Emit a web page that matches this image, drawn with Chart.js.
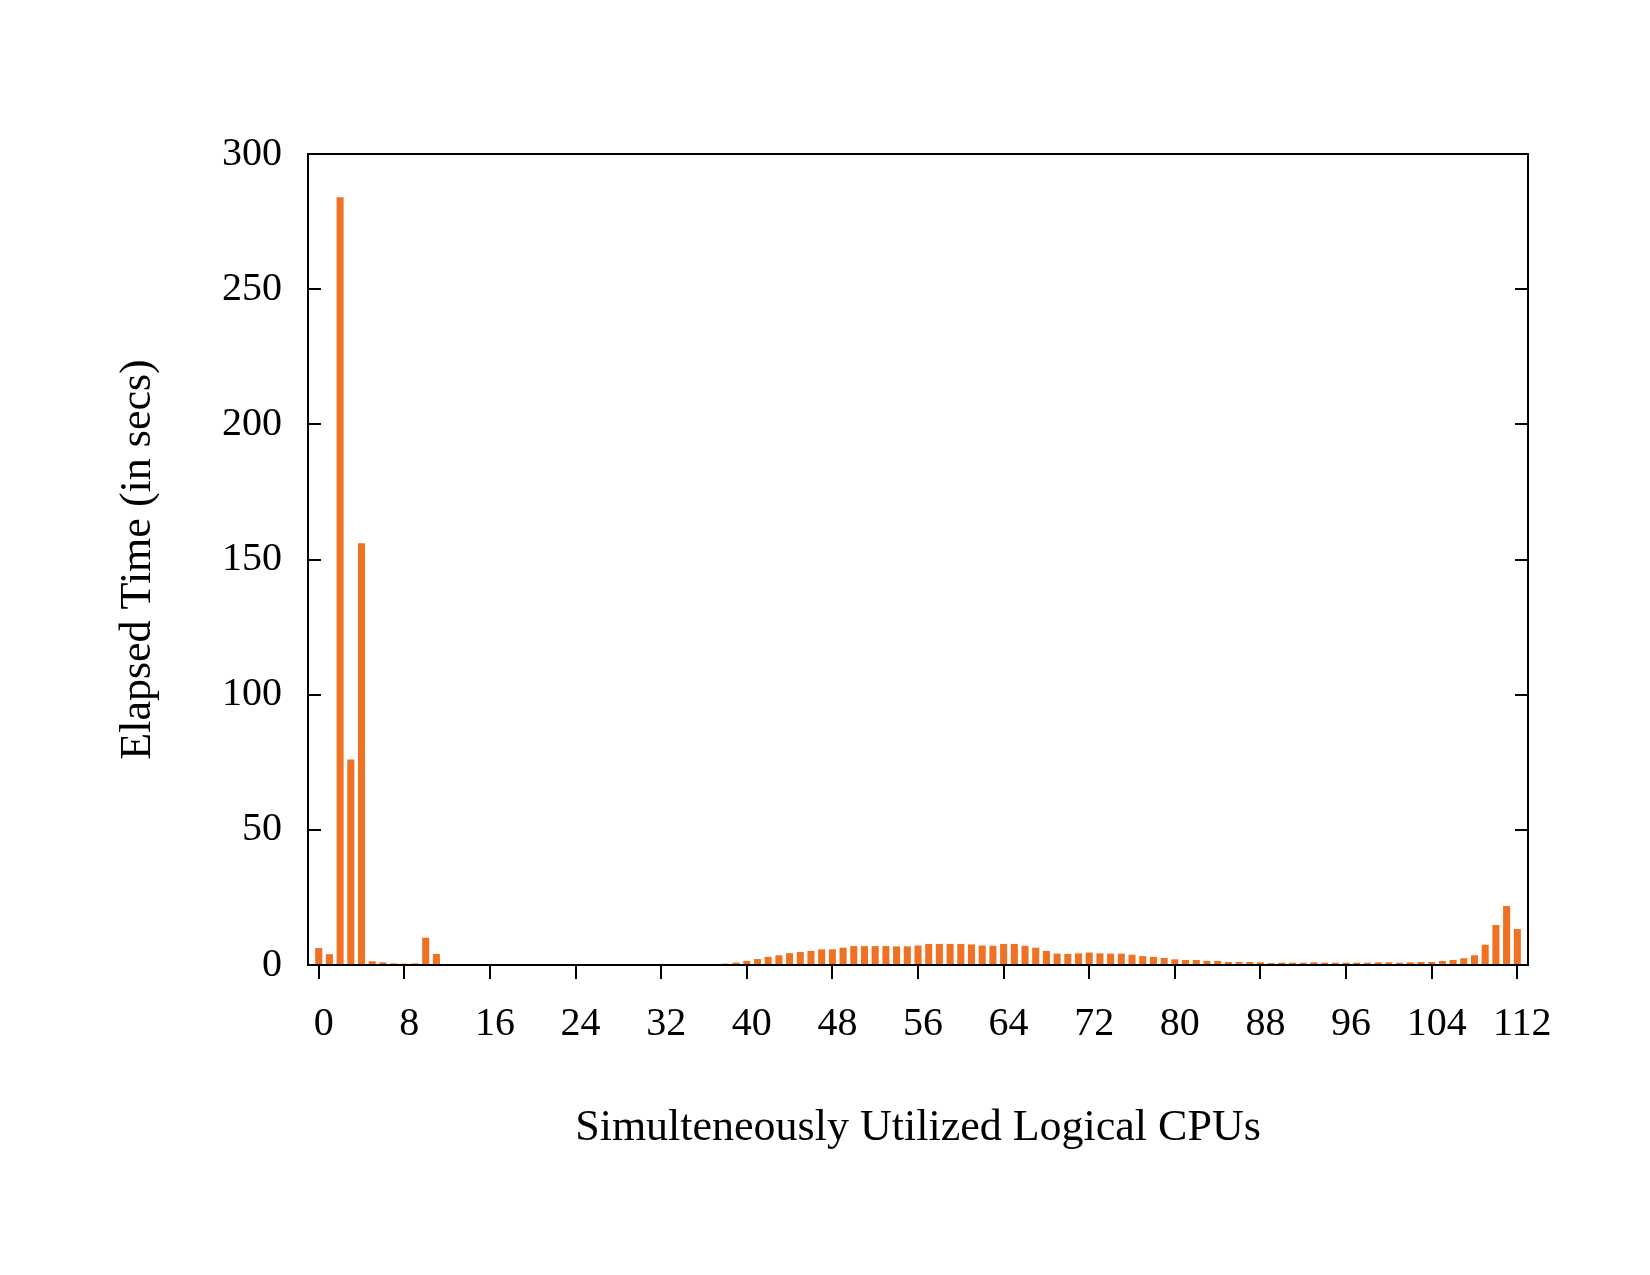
<!DOCTYPE html>
<html>
<head>
<meta charset="utf-8">
<script src="https://cdn.jsdelivr.net/npm/chart.js@4/dist/chart.umd.min.js"></script>
<style>
  html, body { margin: 0; padding: 0; background: #ffffff; }
  #wrap { width: 1650px; height: 1275px; }
</style>
</head>
<body>
<div id="wrap"><canvas id="c" width="1650" height="1275"></canvas></div>
<script>
// Categories: number of simultaneously utilized logical CPUs
const cpus = [
  0,1,2,3,4,5,6,7,8,9,10,11,12,13,14,15,16,17,18,19,20,21,22,23,24,25,26,27,28,29,
  30,31,32,33,34,35,36,37,38,39,40,41,42,43,44,45,46,47,48,49,50,51,52,53,54,55,56,57,58,59,
  60,61,62,63,64,65,66,67,68,69,70,71,72,73,74,75,76,77,78,79,80,81,82,83,84,85,86,87,88,89,
  90,91,92,93,94,95,96,97,98,99,100,101,102,103,104,105,106,107,108,109,110,111,112
];
// Elapsed time (seconds) per CPU count
const elapsed = [
  6.3, 4.0, 284, 76, 156, 1.4, 1.0, 0.6, 0.5, 0.6,
  10.1, 4.1, 0, 0, 0, 0, 0, 0, 0, 0,
  0, 0, 0, 0, 0, 0, 0, 0, 0, 0,
  0, 0, 0, 0.1, 0.1, 0.15, 0.2, 0.35, 0.5, 0.9,
  1.5, 2.2, 3.0, 3.6, 4.4, 4.8, 5.2, 5.8, 5.8, 6.4,
  7.0, 7.0, 7.0, 7.0, 6.9, 6.9, 7.2, 7.8, 7.8, 7.8,
  7.8, 7.6, 7.2, 7.1, 7.8, 7.8, 7.1, 6.4, 5.2, 4.2,
  4.1, 4.3, 4.6, 4.3, 4.2, 4.2, 3.8, 3.3, 3.0, 2.6,
  2.1, 1.85, 1.85, 1.5, 1.5, 1.1, 1.1, 1.1, 1.0, 0.75,
  0.85, 0.85, 0.85, 1.0, 0.85, 0.85, 0.85, 0.85, 0.85, 1.0,
  1.0, 0.85, 1.0, 1.1, 1.1, 1.5, 1.85, 2.5, 3.6, 7.5,
  14.8, 21.8, 13.3
];
const xTickValues = [0, 8, 16, 24, 32, 40, 48, 56, 64, 72, 80, 88, 96, 104, 112];
const yTickValues = [0, 50, 100, 150, 200, 250, 300];
const xTitle = 'Simulteneously Utilized Logical CPUs';
const yTitle = 'Elapsed Time (in secs)';

const points = cpus.map((c, i) => ({ x: c, y: elapsed[i] }));

const FONT = 'Liberation Serif';
const TICK_SIZE = 40;
const TITLE_SIZE = 44;

const framePlugin = {
  id: 'frame',
  afterDraw(chart) {
    const { ctx, chartArea: a, scales } = chart;
    ctx.save();
    ctx.strokeStyle = '#000';
    ctx.lineWidth = 2;
    ctx.strokeRect(a.left, a.top, a.right - a.left, a.bottom - a.top);
    ctx.beginPath();
    scales.y.ticks.forEach(t => {
      const y = Math.round(scales.y.getPixelForValue(t.value));
      ctx.moveTo(a.left, y); ctx.lineTo(a.left + 13, y);
      ctx.moveTo(a.right, y); ctx.lineTo(a.right - 13, y);
    });
    ctx.stroke();
    ctx.restore();
  }
};

new Chart(document.getElementById('c'), {
  type: 'bar',
  data: {
    datasets: [{
      data: points,
      backgroundColor: '#EF7124',
      borderWidth: 0,
      barPercentage: 0.66,
      categoryPercentage: 1.0
    }]
  },
  options: {
    responsive: false,
    animation: false,
    devicePixelRatio: 1,
    layout: { padding: { left: 0, right: 122, top: 154, bottom: 0 } },
    plugins: { legend: { display: false }, tooltip: { enabled: false } },
    scales: {
      x: {
        type: 'linear',
        min: -1,
        max: 113,
        offset: false,
        afterBuildTicks(scale) { scale.ticks = xTickValues.map(v => ({ value: v })); },
        afterFit(scale) { scale.height = 1275 - 965; },
        grid: {
          display: true,
          offset: false,
          drawOnChartArea: false,
          drawTicks: true,
          tickLength: 14,
          lineWidth: 2,
          color: '#000'
        },
        border: { display: false },
        ticks: {
          autoSkip: false,
          maxRotation: 0,
          labelOffset: 5,
          padding: 21,
          color: '#000',
          font: { family: FONT, size: TICK_SIZE },
          callback: v => String(v)
        },
        title: {
          display: true,
          text: xTitle,
          color: '#000',
          font: { family: FONT, size: TITLE_SIZE },
          padding: { top: 0, bottom: 120 }
        }
      },
      y: {
        min: 0,
        max: 300,
        afterBuildTicks(scale) { scale.ticks = yTickValues.map(v => ({ value: v })); },
        afterFit(scale) { scale.width = 308; },
        grid: { display: false, drawTicks: false },
        border: { display: false },
        ticks: {
          padding: 26,
          color: '#000',
          font: { family: FONT, size: TICK_SIZE }
        },
        title: {
          display: true,
          text: yTitle,
          color: '#000',
          font: { family: FONT, size: TITLE_SIZE },
          padding: { top: 112, bottom: 0 }
        }
      }
    }
  },
  plugins: [framePlugin]
});
</script>
</body>
</html>
